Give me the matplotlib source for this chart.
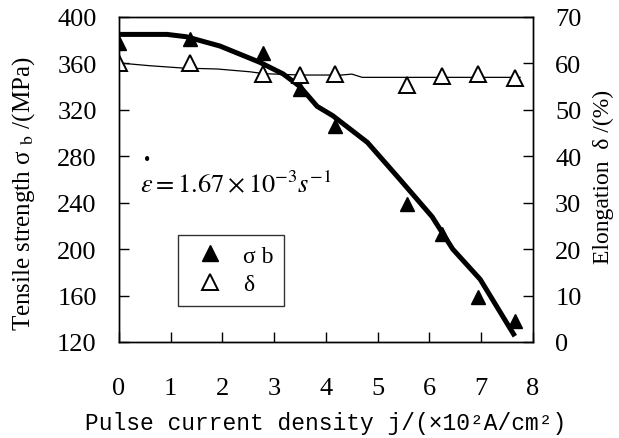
import matplotlib
matplotlib.use('Agg')
import matplotlib.pyplot as plt
from matplotlib.lines import Line2D

plt.rcParams['font.family'] = ['Liberation Serif', 'DejaVu Serif']
plt.rcParams['mathtext.fontset'] = 'stix'

j_pts = [0, 1.37, 2.78, 3.5, 4.17, 5.56, 6.24, 6.94, 7.65]
sigma_pts = [378, 381, 369, 338, 306, 239, 213, 159, 138]
delta_pts = [60, 60, 57.7, 57.5, 57.7, 55.3, 57.3, 57.7, 56.8]

# fitted curves
j_sig_fit = [0, 0.93, 1.3, 1.95, 2.72, 3.17, 3.5, 3.83, 4.13, 4.8, 5.43, 6.05, 6.45, 6.98, 7.65]
sig_fit = [385, 385, 383, 375, 361, 351, 340, 323, 315, 292, 260, 228, 200, 174, 125]
j_del_fit = [0, 0.6, 1.24, 1.9, 2.53, 2.8, 3.5, 4.3, 4.5, 4.7, 5.5, 6.5, 7.75]
del_fit = [60.1, 59.5, 59.0, 58.8, 58.2, 57.8, 57.5, 57.5, 57.7, 57.0, 57.0, 57.0, 57.0]

x_ticks = [0, 1, 2, 3, 4, 5, 6, 7, 8]
y1_ticks = [120, 160, 200, 240, 280, 320, 360, 400]
y2_ticks = [0, 10, 20, 30, 40, 50, 60, 70]

fig = plt.figure(figsize=(6.19, 4.39), dpi=100)
ax = fig.add_axes([0.1922, 0.2187, 0.6688, 0.7403])
ax2 = ax.twinx()

ax.plot(j_sig_fit, sig_fit, color='black', lw=3.6, solid_capstyle='butt')
ax.plot(j_pts, sigma_pts, ls='none', marker='^', ms=10, color='black')

ax2.plot(j_del_fit, del_fit, color='black', lw=0.9)
ax2.plot(j_pts, delta_pts, ls='none', marker='^', ms=11, mfc='white',
         mec='black', mew=1.4)

ax.set_xlim(0, 8)
ax.set_ylim(120, 400)
ax2.set_ylim(0, 70)
ax.set_xticks(x_ticks)
ax.set_yticks(y1_ticks)
ax2.set_yticks(y2_ticks)

ax.tick_params(axis='x', direction='in', length=7, width=1, pad=25, labelsize=19)
ax.tick_params(axis='y', direction='in', length=7, width=1, pad=16, labelsize=19)
ax2.tick_params(axis='y', direction='in', length=7, width=1, pad=16, labelsize=19)
for a in (ax, ax2):
    for s in a.spines.values():
        s.set_linewidth(1.0)

ax.set_xlabel('Pulse current density j/(×10²A/cm²)', family=['Liberation Mono', 'DejaVu Sans Mono'],
              fontsize=16.5)
ax.set_ylabel(r'Tensile strength σ $_{\rm b}$ /(MPa)', fontsize=18)
ax2.set_ylabel('Elongation  δ /(%)', fontsize=17)
ax.xaxis.set_label_coords(0.5, -0.212)
ax.yaxis.set_label_coords(-0.198, 0.458)
ax2.yaxis.set_label_coords(1.145, 0.511)

ax.text(0.05, 0.49, r'$\varepsilon = 1.67\times10^{-3}s^{-1}$', transform=ax.transAxes,
        fontsize=19, va='center', ha='left')
ax.text(0.068, 0.563, '•', transform=ax.transAxes, fontsize=13, va='center', ha='center')

handles = [Line2D([], [], ls='none', marker='^', ms=11, color='black'),
           Line2D([], [], ls='none', marker='^', ms=12, mfc='white', mec='black', mew=1.4)]
leg = ax.legend(handles, ['σ b', 'δ'], loc='lower left', bbox_to_anchor=(0.1425, 0.111),
                borderaxespad=0, fontsize=17, fancybox=False, frameon=True,
                handletextpad=0.5, borderpad=0.45, labelspacing=0.3, handlelength=1.8)
leg.get_frame().set_edgecolor('black')
leg.get_frame().set_linewidth(1.0)
leg.set_zorder(5)

fig.savefig('out.png', dpi=100)
